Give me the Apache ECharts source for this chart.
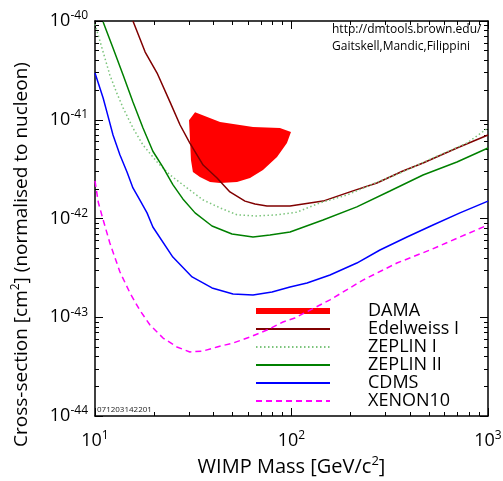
<!DOCTYPE html>
<html><head><meta charset="utf-8">
<script src="https://cdn.jsdelivr.net/npm/echarts@6/dist/echarts.min.js"></script>
<style>html,body{margin:0;padding:0;background:#fff}#c{width:503px;height:481px}</style>
</head><body><div id="c"></div>
<script>
// ---------- data ----------
const seriesNames = ['DAMA', 'Edelweiss I', 'ZEPLIN I', 'ZEPLIN II', 'CDMS', 'XENON10'];

const damaMass  = [32.3, 43.3, 63.7, 87.3, 99.4, 94.8, 84.4, 71.6, 61.5, 52.8, 43.3, 38.5, 34.2, 31.5, 30.8, 30.1];
const damaSigma = [1.19e-41, 9.5e-42, 8.45e-42, 8.25e-42, 7.5e-42, 5.8e-42, 4.2e-42, 3.1e-42, 2.57e-42, 2.34e-42, 2.29e-42, 2.34e-42, 2.63e-42, 2.96e-42, 3.9e-42, 9.9e-42];

const edelMass  = [15.6, 18.0, 20.7, 24.1, 27.1, 30.4, 35.5, 41.8, 48.6, 58.0, 65.2, 75.0, 98.3, 144.7, 198.5, 272, 369, 467, 695, 1000];
const edelSigma = [1.0e-40, 4.85e-41, 2.97e-41, 1.51e-41, 8.85e-42, 5.81e-42, 3.48e-42, 2.57e-42, 1.86e-42, 1.50e-42, 1.40e-42, 1.34e-42, 1.34e-42, 1.50e-42, 1.86e-42, 2.29e-42, 3.03e-42, 3.65e-42, 5.17e-42, 7.0e-42];

const zep1Mass  = [10, 11.0, 11.9, 12.9, 13.9, 15.6, 17.55, 20.7, 24.1, 29.4, 35.5, 43.3, 52.8, 66.7, 84.4, 106.7, 139.6, 191.6, 260, 357, 525, 782, 1000];
const zep1Sigma = [9.3e-41, 4.85e-41, 2.84e-41, 1.87e-41, 1.32e-41, 8.25e-42, 5.55e-42, 3.73e-42, 2.76e-42, 2.04e-42, 1.54e-42, 1.28e-42, 1.09e-42, 1.06e-42, 1.09e-42, 1.16e-42, 1.44e-42, 1.73e-42, 2.24e-42, 2.89e-42, 4.10e-42, 5.81e-42, 8.25e-42];

const zep2Mass  = [11.0, 12.35, 13.9, 15.6, 17.55, 19.7, 22.2, 24.9, 28.0, 32.3, 39.4, 49.8, 63.7, 77.7, 98.3, 144.7, 215, 317, 467, 695, 1000];
const zep2Sigma = [9.77e-41, 5.33e-41, 2.84e-41, 1.51e-41, 8.25e-42, 4.8e-42, 3.3e-42, 2.2e-42, 1.58e-42, 1.14e-42, 8.39e-43, 6.97e-43, 6.50e-43, 6.81e-43, 7.30e-43, 9.66e-43, 1.31e-42, 1.90e-42, 2.76e-42, 3.73e-42, 5.17e-42];

const cdmsMass  = [10, 11.0, 11.6, 12.35, 13.4, 14.55, 15.6, 16.9, 18.4, 19.7, 24.9, 31.2, 39.4, 50.4, 63.7, 79.6, 98.3, 120, 157, 215, 282, 387, 525, 720, 1000];
const cdmsSigma = [2.97e-41, 1.66e-41, 1.12e-41, 7.0e-42, 4.4e-42, 2.96e-42, 2.04e-42, 1.54e-42, 1.14e-42, 8.2e-43, 4.07e-43, 2.56e-43, 1.98e-43, 1.72e-43, 1.68e-43, 1.80e-43, 2.02e-43, 2.22e-43, 2.68e-43, 3.54e-43, 4.80e-43, 6.50e-43, 8.59e-43, 1.14e-42, 1.50e-42];

const xenonMass  = [10, 10.4, 11.0, 11.9, 13.4, 15.07, 16.9, 19.05, 22.2, 26.1, 30.4, 35.5, 41.8, 50.4, 61.5, 75.0, 90.5, 104, 157, 231, 344, 507, 720, 1000];
const xenonSigma = [2.4e-42, 1.45e-42, 9.7e-43, 5.65e-43, 2.87e-43, 1.76e-43, 1.18e-43, 8.34e-44, 6.16e-44, 5.0e-44, 4.45e-44, 4.55e-44, 5.0e-44, 5.48e-44, 6.31e-44, 7.43e-44, 8.95e-44, 9.83e-44, 1.50e-43, 2.38e-43, 3.54e-43, 4.80e-43, 6.50e-43, 8.59e-43];

const xMajorTicks = [10, 100, 1000];
const xMinorTicks = [20, 30, 40, 50, 60, 70, 80, 90, 200, 300, 400, 500, 600, 700, 800, 900];
const yMajorTicks = [1e-44, 1e-43, 1e-42, 1e-41, 1e-40];
const yMinorTicks = [2e-44, 3e-44, 4e-44, 5e-44, 6e-44, 7e-44, 8e-44, 9e-44,
                     2e-43, 3e-43, 4e-43, 5e-43, 6e-43, 7e-43, 8e-43, 9e-43,
                     2e-42, 3e-42, 4e-42, 5e-42, 6e-42, 7e-42, 8e-42, 9e-42,
                     2e-41, 3e-41, 4e-41, 5e-41, 6e-41, 7e-41, 8e-41, 9e-41];

const xTitle = 'WIMP Mass [GeV/c';
const yTitleA = 'Cross-section [cm';
const yTitleB = '] (normalised to nucleon)';
const creditLine1 = 'http://dmtools.brown.edu/';
const creditLine2 = 'Gaitskell,Mandic,Filippini';
const stampText = '071203142201';

// ---------- chart (log10 scales drawn on linear value axes) ----------
const FONT = '"Open Sans", "DejaVu Sans", sans-serif';
const lg = v => Math.log10(v);
const pair = (xs, ys) => xs.map((x, i) => [lg(x), lg(ys[i])]);
const powLabel = v => '{b|10}{s|' + Math.round(v) + '}';
const labelRich = {
  b: { fontSize: 18, fontFamily: FONT, color: '#000', lineHeight: 22 },
  s: { fontSize: 12, fontFamily: FONT, color: '#000', lineHeight: 13, verticalAlign: 'top' }
};

function makeAxis(kind, pos, minor, showLabel, extra) {
  const isX = kind === 'x';
  const major = isX ? xMajorTicks : yMajorTicks;
  const ax = {
    type: 'value',
    min: lg(major[0]), max: lg(major[major.length - 1]), interval: 1,
    position: pos,
    axisLine: { show: !minor, onZero: false, lineStyle: { color: '#000', width: 1.5 } },
    axisTick: { show: true, inside: true, length: minor ? 4 : 8,
      customValues: (minor ? (isX ? xMinorTicks : yMinorTicks) : major).map(lg),
      lineStyle: { color: '#000', width: 1 } },
    axisLabel: { show: showLabel, customValues: major.map(lg),
      formatter: powLabel, rich: labelRich, margin: isX ? 14 : 7 },
    splitLine: { show: false },
    minorTick: { show: false },
    silent: true
  };
  return Object.assign(ax, extra || {});
}

function lineSeries(name, xs, ys, color, type, width) {
  return { name, type: 'line', data: pair(xs, ys), symbol: 'none', smooth: false,
    lineStyle: { color, width, type }, itemStyle: { color }, silent: true, z: 3,
    xAxisIndex: 0, yAxisIndex: 0 };
}

const chart = echarts.init(document.getElementById('c'), null, { renderer: 'canvas' });
chart.setOption({
  animation: false,
  backgroundColor: '#fff',
  grid: { left: 95, right: 15, top: 21, bottom: 65, containLabel: false, outerBoundsMode: 'none' },
  xAxis: [
    makeAxis('x', 'bottom', false, true, {
      name: '{a|' + xTitle + '}{s|2}{a|]}', nameLocation: 'middle', nameGap: 39,
      nameTextStyle: { rich: {
        a: { fontSize: 20, fontFamily: FONT, color: '#000', lineHeight: 24 },
        s: { fontSize: 13, fontFamily: FONT, color: '#000', lineHeight: 14, verticalAlign: 'top' } } }
    }),
    makeAxis('x', 'bottom', true, false),
    makeAxis('x', 'top', false, false),
    makeAxis('x', 'top', true, false)
  ],
  yAxis: [
    makeAxis('y', 'left', false, true, {
      name: '{a|' + yTitleA + '}{s|2}{a|' + yTitleB + '}', nameLocation: 'middle', nameGap: 62,
      nameTextStyle: { padding: [0, 72, 0, 0], rich: {
        a: { fontSize: 19, fontFamily: FONT, color: '#000', lineHeight: 23 },
        s: { fontSize: 12, fontFamily: FONT, color: '#000', lineHeight: 13, verticalAlign: 'top' } } }
    }),
    makeAxis('y', 'left', true, false),
    makeAxis('y', 'right', false, false),
    makeAxis('y', 'right', true, false)
  ],
  legend: {
    orient: 'vertical', left: 255, top: 302, itemWidth: 74, itemHeight: 6, itemGap: 0, padding: 0,
    selectedMode: false, z: 1,
    itemStyle: { opacity: 0 },
    textStyle: { fontFamily: FONT, fontSize: 18, color: '#000', lineHeight: 16.5, padding: [0, 0, 0, 33] },
    data: [{ name: seriesNames[0], icon: 'rect', itemStyle: { opacity: 1, color: '#ff0000' } },
           seriesNames[1], seriesNames[2], seriesNames[3], seriesNames[4], seriesNames[5]]
  },
  graphic: [
    { type: 'text', left: 332, top: 24, z: 10,
      style: { text: creditLine1, font: '12px ' + FONT, fill: '#000', width: 156, overflow: 'truncate', ellipsis: '' } },
    { type: 'text', left: 332, top: 41, z: 10,
      style: { text: creditLine2, font: '12px ' + FONT, fill: '#000', width: 156, overflow: 'truncate', ellipsis: '' } },
    { type: 'text', left: 97, top: 406, z: 10,
      style: { text: stampText, font: '8px ' + FONT, fill: '#222' } }
  ],
  series: [
    { name: seriesNames[0], type: 'custom', coordinateSystem: 'cartesian2d', xAxisIndex: 0, yAxisIndex: 0,
      data: pair(damaMass, damaSigma), itemStyle: { color: '#ff0000' }, silent: true, z: 1,
      renderItem: (params, api) => {
        if (params.dataIndex !== 0) return null;
        const pts = damaMass.map((m, i) => api.coord([lg(m), lg(damaSigma[i])]));
        return { type: 'polygon', shape: { points: pts }, style: { fill: '#ff0000' } };
      } },
    lineSeries(seriesNames[1], edelMass, edelSigma, '#800000', 'solid', 1.5),
    lineSeries(seriesNames[2], zep1Mass, zep1Sigma, '#7cc47c', [1.5, 2.5], 1.5),
    lineSeries(seriesNames[3], zep2Mass, zep2Sigma, '#008000', 'solid', 1.5),
    lineSeries(seriesNames[4], cdmsMass, cdmsSigma, '#0000ff', 'solid', 1.5),
    lineSeries(seriesNames[5], xenonMass, xenonSigma, '#ff00ff', [6, 4], 1.5)
  ]
});
</script>
</body></html>
